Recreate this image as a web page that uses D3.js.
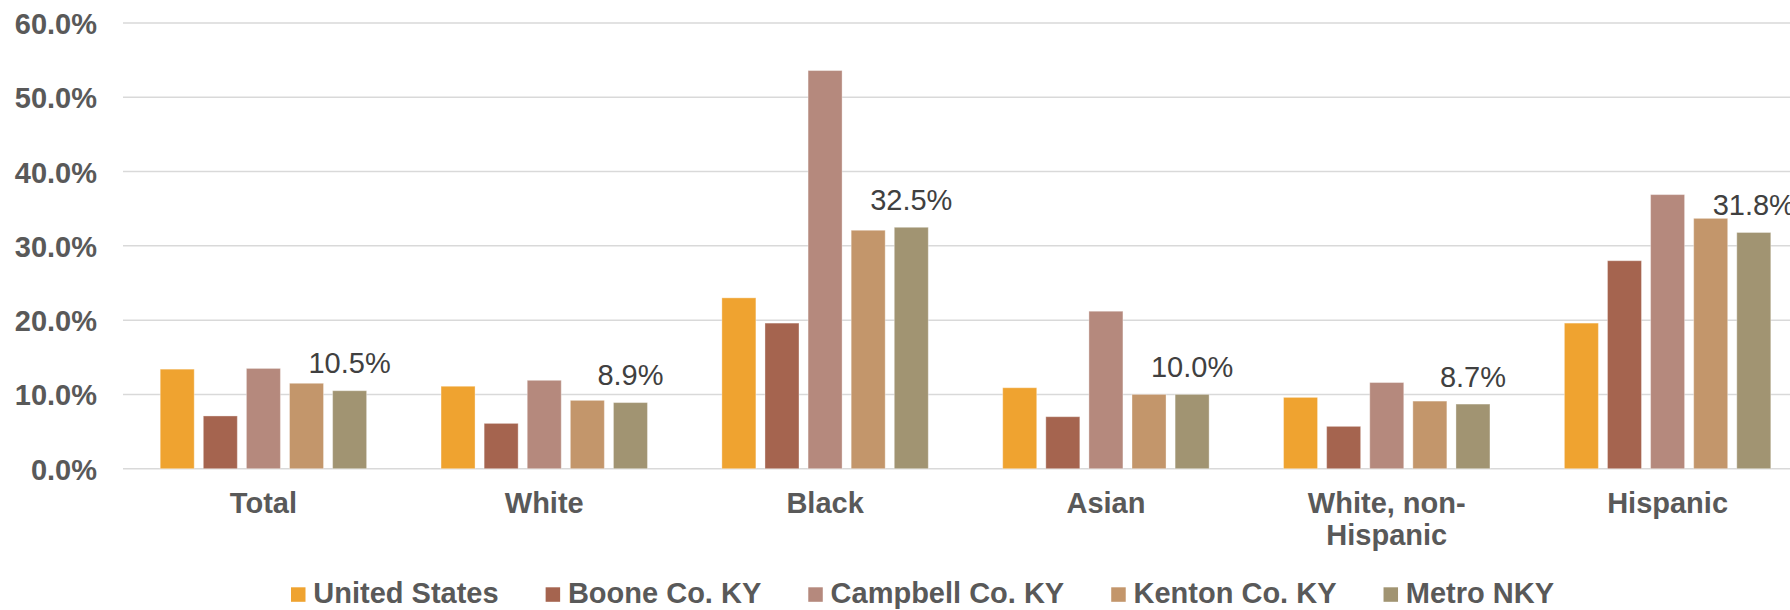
<!DOCTYPE html>
<html>
<head>
<meta charset="utf-8">
<script src="https://cdn.jsdelivr.net/npm/d3@7"></script>
<style>
  html, body { margin: 0; padding: 0; background: #fff; }
  svg { display: block; font-family: "Liberation Sans", Arial, sans-serif; }
</style>
</head>
<body>
<svg id="chart" width="1790" height="610"></svg>
<script>
// ---- data ----
const categories = ["Total", "White", "Black", "Asian", "White, non-Hispanic", "Hispanic"];
const categoryLines = [["Total"], ["White"], ["Black"], ["Asian"], ["White, non-", "Hispanic"], ["Hispanic"]];
const seriesNames = ["United States", "Boone Co. KY", "Campbell Co. KY", "Kenton Co. KY", "Metro NKY"];
const unitedStates = [13.4, 11.1, 23.0, 10.9, 9.6, 19.6];
const booneCo      = [7.1, 6.1, 19.6, 7.0, 5.7, 28.0];
const campbellCo   = [13.5, 11.9, 53.6, 21.2, 11.6, 36.9];
const kentonCo     = [11.5, 9.2, 32.1, 10.0, 9.1, 33.7];
const metroNKY     = [10.5, 8.9, 32.5, 10.0, 8.7, 31.8];
const yTicks = [0, 10, 20, 30, 40, 50, 60];
const labeledSeries = "Metro NKY";
const colors = ["#EFA330", "#A5644F", "#B5897D", "#C3966B", "#A19472"];

const seriesValues = [unitedStates, booneCo, campbellCo, kentonCo, metroNKY];
const table = categories.map((c, i) => ({
  category: c,
  values: seriesNames.map((s, j) => ({ series: s, value: seriesValues[j][i] }))
}));

// ---- layout ----
const svg = d3.select("#chart");
const plotLeft = 123, plotRight = 1808, plotTop = 23, plotBottom = 468.7;
const FS = 29;

const x0 = d3.scaleBand().domain(categories).range([plotLeft, plotRight])
  .paddingInner(0.265).paddingOuter(0.1325);
const x1 = d3.scaleBand().domain(seriesNames).range([0, x0.bandwidth()]).paddingInner(0.211);
const y = d3.scaleLinear().domain([0, 60]).range([plotBottom, plotTop]);
const color = d3.scaleOrdinal().domain(seriesNames).range(colors);

// gridlines
svg.append("g")
  .selectAll("line").data(yTicks).join("line")
  .attr("x1", plotLeft).attr("x2", plotRight)
  .attr("y1", d => y(d)).attr("y2", d => y(d))
  .attr("stroke", "#D9D9D9").attr("stroke-width", 1.5);

// y axis labels
const yAxis = svg.append("g").attr("transform", `translate(${plotLeft},0)`)
  .call(d3.axisLeft(y).tickValues(yTicks).tickFormat(d => d.toFixed(1) + "%").tickSize(0).tickPadding(26));
yAxis.select(".domain").remove();
yAxis.selectAll("text")
  .attr("font-size", FS).attr("font-weight", "bold").attr("fill", "#595959")
  .attr("font-family", "'Liberation Sans', Arial, sans-serif")
  .attr("dy", "0.36em");

// bars
const groups = svg.append("g").selectAll("g").data(table).join("g")
  .attr("transform", d => `translate(${x0(d.category)},0)`);
groups.selectAll("rect").data(d => d.values).join("rect")
  .attr("x", d => x1(d.series))
  .attr("width", x1.bandwidth())
  .attr("y", d => y(d.value))
  .attr("height", d => y(0) - y(d.value))
  .attr("fill", d => color(d.series))
  .attr("stroke", "#ffffff").attr("stroke-opacity", 0.35).attr("stroke-width", 1);

// data labels
groups.selectAll("text.lbl").data(d => d.values.filter(v => v.series === labeledSeries)).join("text")
  .attr("class", "lbl")
  .attr("x", d => x1(d.series) + x1.bandwidth() / 2)
  .attr("y", d => y(d.value) - 17.5)
  .attr("text-anchor", "middle")
  .attr("font-size", FS).attr("fill", "#404040")
  .text(d => d.value.toFixed(1) + "%");

// x axis labels
const xAxis = svg.append("g").attr("transform", `translate(0,${plotBottom})`)
  .call(d3.axisBottom(x0).tickSize(0).tickFormat(""));
xAxis.select(".domain").remove();
xAxis.selectAll(".tick").each(function(d, i) {
  const t = d3.select(this).append("text")
    .attr("text-anchor", "middle")
    .attr("font-size", FS).attr("font-weight", "bold").attr("fill", "#595959")
    .attr("font-family", "'Liberation Sans', Arial, sans-serif");
  categoryLines[i].forEach((line, k) => {
    t.append("tspan").attr("x", 0).attr("y", 44.6 + k * 32.2).text(line);
  });
});

// legend
const legend = svg.append("g").attr("transform", "translate(291,587.3)");
let lx = 0;
seriesNames.forEach((s, i) => {
  const g = legend.append("g").attr("transform", `translate(${lx},0)`);
  g.append("rect").attr("width", 14.5).attr("height", 14.5).attr("fill", color(s));
  const t = g.append("text").attr("x", 22.3).attr("y", 15.4)
    .attr("font-size", FS).attr("font-weight", "bold").attr("fill", "#595959")
    .text(s);
  lx += 22.3 + t.node().getComputedTextLength() + 47;
});
</script>
</body>
</html>
